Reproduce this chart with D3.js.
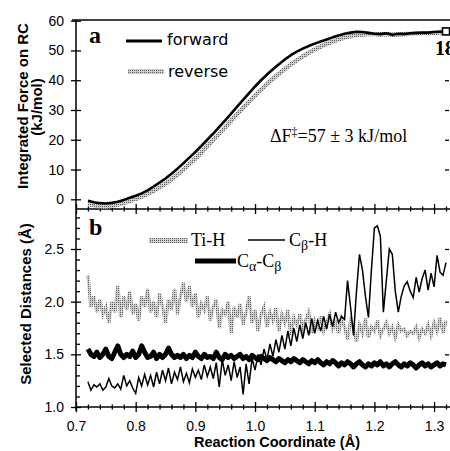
<!DOCTYPE html>
<html lang="en">
<head>
<meta charset="UTF-8">
<title>Integrated force and selected distances</title>
<script src="https://cdn.jsdelivr.net/npm/d3@7"></script>
<style>
  body { margin: 0; background: #fff; }
  .tick text { font-family: "Liberation Sans", Arial, sans-serif; font-size: 14px; fill: #000; }
  .tick line { stroke: #000; stroke-width: 1.3; }
</style>
</head>
<body>
<svg id="svg"></svg>
<script>
var WIDTH = 450;
var HEIGHT = 451;

// panel a: integrated force, sampled every 0.01 A from 0.72
var forceStart = 0.72, forceStep = 0.01;
var forward = [-0.5, -1.0, -1.3, -1.4, -1.2, -0.8, -0.2, 0.5, 1.2, 2.0,
  3.0, 4.3, 5.6, 7.0, 8.6, 10.3, 12.1, 14.0, 15.9, 17.9,
  20.0, 22.1, 24.3, 26.5, 28.8, 31.1, 33.4, 35.7, 37.9, 40.0,
  41.9, 43.7, 45.4, 47.0, 48.4, 49.6, 50.6, 51.5, 52.3, 53.0,
  53.7, 54.4, 55.0, 55.6, 56.0, 56.3, 56.2, 55.9, 55.6, 55.5,
  55.8, 55.3, 55.6, 55.5, 55.8, 55.9, 56.0, 56.0, 56.2, 56.3, 56.4];
var reverse = [-1.5, -2.0, -2.3, -2.4, -2.2, -1.8, -1.2, -0.6, 0.1, 0.9,
  1.8, 2.9, 4.0, 5.3, 6.7, 8.3, 10.0, 11.8, 13.7, 15.7,
  17.8, 19.9, 22.0, 24.2, 26.4, 28.6, 30.7, 32.8, 34.8, 36.8,
  38.7, 40.5, 42.2, 43.8, 45.3, 46.7, 48.0, 49.2, 50.3, 51.3,
  52.2, 53.0, 53.7, 54.3, 54.8, 55.2, 55.4, 55.5, 55.5, 55.4,
  55.5, 55.3, 55.4, 55.5, 55.6, 55.7, 55.8, 55.8, 55.9, 56.0, 56.1];

// panel b: distances, sampled every 0.005 A from 0.72
var distStart = 0.72, distStep = 0.005;
var tiH = [2.25, 1.95, 2.05, 1.90, 2.02, 1.88, 1.95, 1.80, 2.00, 1.90, 2.15,
  1.85, 2.05, 1.92, 2.10, 1.88, 1.98, 1.82, 2.05, 1.95, 2.12,
  1.90, 2.00, 1.85, 2.08, 1.95, 1.80, 2.02, 1.92, 2.12, 1.88,
  2.05, 2.18, 2.00, 2.15, 1.95, 2.08, 1.85, 1.98, 1.92, 2.05,
  1.82, 1.95, 2.02, 1.75, 1.92, 1.88, 2.00, 1.70, 1.95, 1.85,
  1.98, 1.78, 1.90, 2.05, 1.80, 1.92, 1.72, 1.88, 1.95, 1.76,
  1.90, 1.82, 1.94, 1.72, 1.88, 1.80, 1.92, 1.68, 1.85, 1.78,
  1.88, 1.75, 1.83, 1.90, 1.70, 1.82, 1.76, 1.86, 1.72, 1.80,
  1.88, 1.74, 1.80, 1.70, 1.84, 1.76, 1.64, 1.82, 1.75, 1.62,
  1.78, 1.70, 1.84, 1.66, 1.76, 1.72, 1.82, 1.68, 1.74, 1.80,
  1.70, 1.76, 1.66, 1.78, 1.72, 1.74, 1.68, 1.72, 1.70, 1.76,
  1.66, 1.74, 1.70, 1.78, 1.68, 1.80, 1.72, 1.85, 1.70, 1.82];
var cbH = [1.24, 1.16, 1.21, 1.19, 1.22, 1.16, 1.19, 1.27, 1.20, 1.18, 1.22,
  1.17, 1.30, 1.20, 1.25, 1.18, 1.13, 1.28, 1.20, 1.31, 1.21,
  1.30, 1.19, 1.33, 1.22, 1.35, 1.25, 1.37, 1.22, 1.33, 1.26,
  1.38, 1.24, 1.32, 1.23, 1.36, 1.28, 1.35, 1.26, 1.40, 1.29,
  1.38, 1.27, 1.42, 1.19, 1.45, 1.30, 1.40, 1.25, 1.43, 1.28,
  1.38, 1.12, 1.41, 1.22, 1.46, 1.35, 1.50, 1.40, 1.55, 1.45,
  1.60, 1.48, 1.64, 1.52, 1.68, 1.55, 1.72, 1.58, 1.75, 1.62,
  1.78, 1.65, 1.80, 1.68, 1.84, 1.70, 1.82, 1.72, 1.86, 1.74,
  1.88, 1.76, 1.90, 1.80, 1.86, 1.83, 2.20, 1.95, 1.68, 2.10,
  2.45, 2.30, 2.05, 1.85, 2.30, 2.70, 2.72, 2.62, 1.90, 2.20,
  2.50, 2.45, 2.10, 1.90, 2.05, 2.15, 2.19, 2.10, 2.04, 2.23,
  2.09, 2.22, 2.30, 2.11, 2.27, 2.14, 2.44, 2.28, 2.25, 2.37];
var caCb = [1.55, 1.50, 1.48, 1.52, 1.47, 1.50, 1.55, 1.48, 1.46, 1.52, 1.58,
  1.50, 1.47, 1.50, 1.48, 1.53, 1.47, 1.50, 1.58, 1.52, 1.47,
  1.48, 1.52, 1.46, 1.50, 1.47, 1.50, 1.56, 1.50, 1.47, 1.49,
  1.47, 1.50, 1.46, 1.49, 1.47, 1.52, 1.48, 1.46, 1.50, 1.47,
  1.48, 1.46, 1.52, 1.47, 1.45, 1.50, 1.47, 1.49, 1.46, 1.48,
  1.50, 1.46, 1.48, 1.45, 1.49, 1.47, 1.45, 1.48, 1.46, 1.44,
  1.47, 1.45, 1.43, 1.46, 1.44, 1.42, 1.45, 1.43, 1.46, 1.44,
  1.42, 1.45, 1.43, 1.41, 1.44, 1.42, 1.45, 1.42, 1.40, 1.43,
  1.41, 1.44, 1.42, 1.39, 1.42, 1.40, 1.43, 1.41, 1.38, 1.41,
  1.43, 1.40, 1.38, 1.41, 1.39, 1.42, 1.40, 1.43, 1.39, 1.41,
  1.38, 1.41, 1.43, 1.40, 1.38, 1.41, 1.39, 1.42, 1.40, 1.37,
  1.40, 1.42, 1.39, 1.41, 1.38, 1.40, 1.42, 1.39, 1.41, 1.40];

var xTicks = [0.7, 0.8, 0.9, 1.0, 1.1, 1.2, 1.3];
var forceTicks = [0, 10, 20, 30, 40, 50, 60];
var distTicks = [1.0, 1.5, 2.0, 2.5];

// layout
var LEFT = 76, RIGHT = 449;
var TOP = 20, MID = 209, BOTTOM = 407;

var xScale = d3.scaleLinear().domain([0.7, 1.325]).range([LEFT, RIGHT]);
var yA = d3.scaleLinear().domain([0, 60]).range([199.3, 20.7]);
var yB = d3.scaleLinear().domain([1.0, 2.5]).range([BOTTOM, 249]);

var svg = d3.select("#svg").attr("width", WIDTH).attr("height", HEIGHT);

var defs = svg.append("defs");
var pat = defs.append("pattern").attr("id", "stip")
    .attr("width", 2).attr("height", 2).attr("patternUnits", "userSpaceOnUse");
pat.append("rect").attr("width", 2).attr("height", 2).attr("fill", "#cfcfcf");
pat.append("rect").attr("width", 1).attr("height", 1).attr("fill", "#5e5e5e");

// axis lines
svg.append("line").attr("x1", LEFT).attr("x2", LEFT).attr("y1", TOP).attr("y2", BOTTOM + 4)
    .attr("stroke", "#000").attr("stroke-width", 1.5);
svg.append("line").attr("x1", LEFT - 4).attr("x2", WIDTH).attr("y1", TOP).attr("y2", TOP)
    .attr("stroke", "#000").attr("stroke-width", 1.3);
[MID, BOTTOM].forEach(function(y){
    svg.append("line").attr("x1", LEFT).attr("x2", WIDTH).attr("y1", y).attr("y2", y)
        .attr("stroke", "#000").attr("stroke-width", 1.5);
});

// x ticks on the middle axis and on the bottom axis
var minorX = d3.range(0, 32).map(function(i){ return +(0.7 + i * 0.02).toFixed(2); })
    .filter(function(v){ return v <= 1.325 && Math.abs(v * 10 - Math.round(v * 10)) > 1e-6; });
[MID, BOTTOM].forEach(function(y){
    var gMaj = svg.append("g").attr("transform", "translate(0," + y + ")")
        .call(d3.axisBottom(xScale).tickValues(xTicks).tickSize(5)
            .tickFormat(y == BOTTOM ? d3.format(".1f") : ""));
    gMaj.select(".domain").remove();
    gMaj.selectAll(".tick line").attr("y1", -5).attr("y2", 5);
    gMaj.selectAll(".tick text").attr("y", 14);
    var gMin = svg.append("g").attr("transform", "translate(0," + y + ")")
        .call(d3.axisBottom(xScale).tickValues(minorX).tickSize(3).tickFormat(""));
    gMin.select(".domain").remove();
    gMin.selectAll(".tick line").attr("y1", -2.5).attr("y2", 2.5);
});

// panel a y ticks
var gA = svg.append("g").attr("transform", "translate(" + LEFT + ",0)")
    .call(d3.axisLeft(yA).tickValues(forceTicks).tickSize(5).tickPadding(7));
gA.select(".domain").remove();
gA.selectAll(".tick line").attr("x1", 5).attr("x2", -5);
var gAr = svg.append("g").attr("transform", "translate(" + RIGHT + ",0)")
    .call(d3.axisLeft(yA).tickValues(forceTicks.slice(1, 6)).tickSize(4).tickFormat(""));
gAr.select(".domain").remove();

// panel b y ticks
var gB = svg.append("g").attr("transform", "translate(" + LEFT + ",0)")
    .call(d3.axisLeft(yB).tickValues(distTicks).tickSize(5).tickPadding(7).tickFormat(d3.format(".1f")));
gB.select(".domain").remove();
gB.selectAll(".tick line").attr("x1", 5).attr("x2", -5);
var minorY = [1.1, 1.2, 1.3, 1.4, 1.6, 1.7, 1.8, 1.9, 2.1, 2.2, 2.3, 2.4, 2.6, 2.7, 2.8];
var gBm = svg.append("g").attr("transform", "translate(" + LEFT + ",0)")
    .call(d3.axisRight(yB).tickValues(minorY).tickSize(4).tickFormat(""));
gBm.select(".domain").remove();
var gBr = svg.append("g").attr("transform", "translate(" + RIGHT + ",0)")
    .call(d3.axisLeft(yB).tickValues(distTicks.slice(1)).tickSize(4).tickFormat(""));
gBr.select(".domain").remove();

// panel a curves
var lineA = d3.line()
    .x(function(d, i){ return xScale(forceStart + i * forceStep); })
    .y(function(d){ return yA(d); });
svg.append("path").datum(reverse).attr("d", lineA)
    .attr("fill", "none").attr("stroke", "url(#stip)").attr("stroke-width", 4.5);
svg.append("path").datum(forward).attr("d", lineA)
    .attr("fill", "none").attr("stroke", "#000").attr("stroke-width", 2.6)
    .attr("stroke-linejoin", "round");

var lastX = forceStart + (forward.length - 1) * forceStep;
svg.append("rect")
    .attr("x", xScale(lastX) - 3.5).attr("y", yA(forward[forward.length - 1]) - 3.5)
    .attr("width", 7).attr("height", 7)
    .attr("fill", "#fff").attr("stroke", "#000").attr("stroke-width", 1.6);

// panel b curves
var lineB = d3.line()
    .x(function(d, i){ return xScale(distStart + i * distStep); })
    .y(function(d){ return yB(d); });
svg.append("path").datum(tiH).attr("d", lineB)
    .attr("fill", "none").attr("stroke", "url(#stip)").attr("stroke-width", 3.2);
svg.append("path").datum(caCb).attr("d", lineB)
    .attr("fill", "none").attr("stroke", "#000").attr("stroke-width", 5)
    .attr("stroke-linejoin", "round");
svg.append("path").datum(cbH).attr("d", lineB)
    .attr("fill", "none").attr("stroke", "#000").attr("stroke-width", 1.5);

// labels
var serif = "'Liberation Serif', 'Times New Roman', serif";
var sans = "'Liberation Sans', Arial, sans-serif";

svg.append("text").attr("x", 89).attr("y", 43).text("a")
    .attr("font-family", serif).attr("font-weight", "bold").attr("font-size", 24);
svg.append("text").attr("x", 89).attr("y", 235).text("b")
    .attr("font-family", serif).attr("font-weight", "bold").attr("font-size", 24);

svg.append("text").attr("x", 435).attr("y", 55).text("18")
    .attr("font-family", serif).attr("font-weight", "bold").attr("font-size", 20);

// legend a
svg.append("line").attr("x1", 126).attr("x2", 162).attr("y1", 41).attr("y2", 41)
    .attr("stroke", "#000").attr("stroke-width", 3);
svg.append("text").attr("x", 167).attr("y", 45).text("forward")
    .attr("font-family", "'DejaVu Sans', sans-serif").attr("font-size", 16);
svg.append("rect").attr("x", 128).attr("y", 69).attr("width", 36).attr("height", 5)
    .attr("fill", "url(#stip)");
svg.append("text").attr("x", 168).attr("y", 77).text("reverse")
    .attr("font-family", "'DejaVu Sans', sans-serif").attr("font-size", 16);

var dF = svg.append("text").attr("x", 270).attr("y", 142)
    .attr("font-family", serif).attr("font-size", 18);
dF.append("tspan").text("\u0394F");
dF.append("tspan").text("\u2021").attr("font-size", 12).attr("dy", -6);
dF.append("tspan").text("=57 \u00b1 3 kJ/mol").attr("dy", 6);

// legend b
svg.append("rect").attr("x", 149).attr("y", 238).attr("width", 39).attr("height", 5)
    .attr("fill", "url(#stip)");
svg.append("text").attr("x", 191).attr("y", 246).text("Ti-H")
    .attr("font-family", serif).attr("font-size", 18);

svg.append("line").attr("x1", 248).attr("x2", 285).attr("y1", 240).attr("y2", 240)
    .attr("stroke", "#000").attr("stroke-width", 1.3);
var cbLab = svg.append("text").attr("x", 289).attr("y", 246)
    .attr("font-family", serif).attr("font-size", 18);
cbLab.append("tspan").text("C");
cbLab.append("tspan").text("\u03b2").attr("font-size", 14).attr("dy", 4);
cbLab.append("tspan").text("-H").attr("dy", -4);

svg.append("line").attr("x1", 195).attr("x2", 236).attr("y1", 261).attr("y2", 261)
    .attr("stroke", "#000").attr("stroke-width", 5);
var caLab = svg.append("text").attr("x", 237).attr("y", 267)
    .attr("font-family", serif).attr("font-size", 18);
caLab.append("tspan").text("C");
caLab.append("tspan").text("\u03b1").attr("font-size", 14).attr("dy", 4);
caLab.append("tspan").text("-C").attr("dy", -4);
caLab.append("tspan").text("\u03b2").attr("font-size", 14).attr("dy", 4);

// axis titles
svg.append("text").attr("transform", "translate(28,106) rotate(-90)")
    .attr("text-anchor", "middle").attr("font-family", sans).attr("font-weight", "bold")
    .attr("font-size", 15).text("Integrated Force on RC");
svg.append("text").attr("transform", "translate(42,107) rotate(-90)")
    .attr("text-anchor", "middle").attr("font-family", sans).attr("font-weight", "bold")
    .attr("font-size", 15).text("(kJ/mol)");
svg.append("text").attr("transform", "translate(31,304) rotate(-90)")
    .attr("text-anchor", "middle").attr("font-family", sans).attr("font-weight", "bold")
    .attr("font-size", 15).text("Selected Distances (\u00c5)");
svg.append("text").attr("x", 277).attr("y", 447)
    .attr("text-anchor", "middle").attr("font-family", sans).attr("font-weight", "bold")
    .attr("font-size", 14.5).text("Reaction Coordinate (\u00c5)");
</script>
</body>
</html>
